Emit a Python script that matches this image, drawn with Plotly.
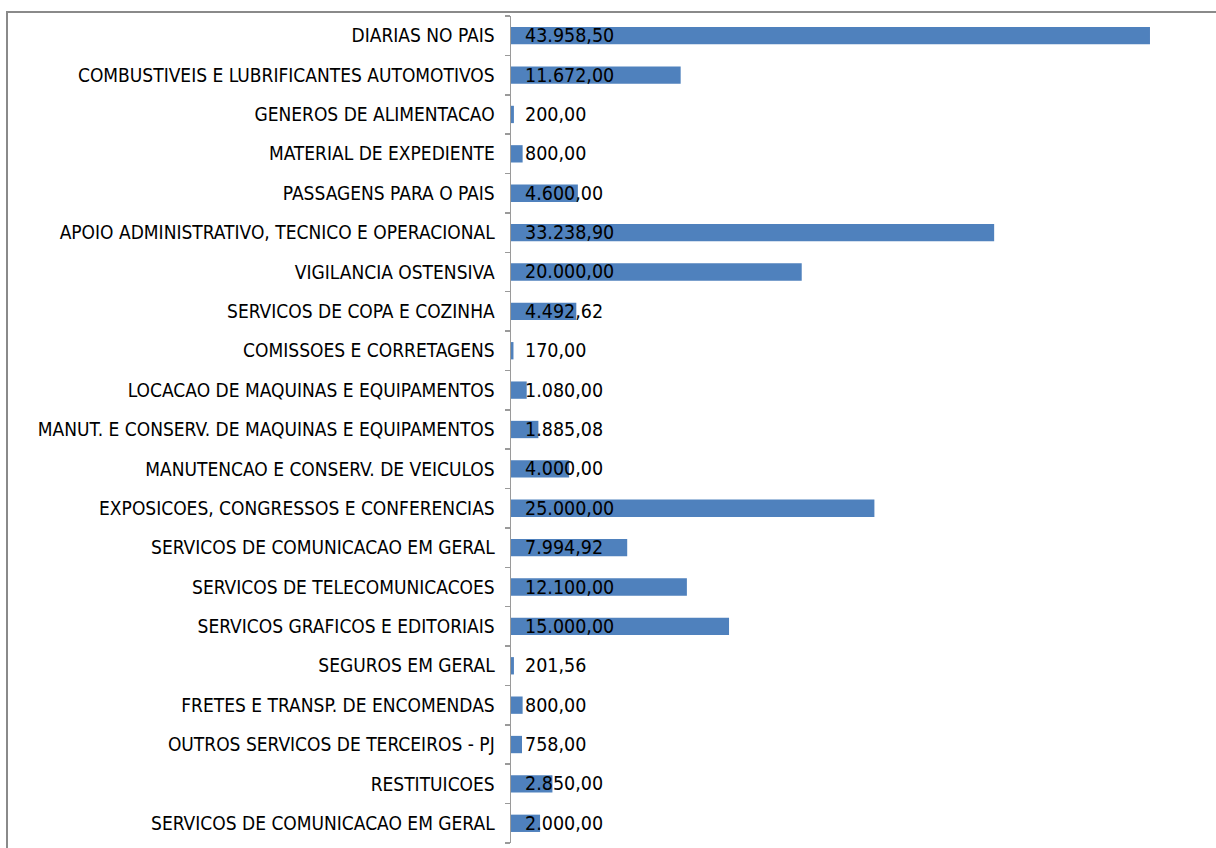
import plotly.graph_objects as go

categories = [
    "DIARIAS NO PAIS",
    "COMBUSTIVEIS E LUBRIFICANTES AUTOMOTIVOS",
    "GENEROS DE ALIMENTACAO",
    "MATERIAL DE EXPEDIENTE",
    "PASSAGENS PARA O PAIS",
    "APOIO ADMINISTRATIVO, TECNICO E OPERACIONAL",
    "VIGILANCIA OSTENSIVA",
    "SERVICOS DE COPA E COZINHA",
    "COMISSOES E CORRETAGENS",
    "LOCACAO DE MAQUINAS E EQUIPAMENTOS",
    "MANUT. E CONSERV. DE MAQUINAS E EQUIPAMENTOS",
    "MANUTENCAO E CONSERV. DE VEICULOS",
    "EXPOSICOES, CONGRESSOS E CONFERENCIAS",
    "SERVICOS DE COMUNICACAO EM GERAL",
    "SERVICOS DE TELECOMUNICACOES",
    "SERVICOS GRAFICOS E EDITORIAIS",
    "SEGUROS EM GERAL",
    "FRETES E TRANSP. DE ENCOMENDAS",
    "OUTROS SERVICOS DE TERCEIROS - PJ",
    "RESTITUICOES",
    "SERVICOS DE COMUNICACAO EM GERAL",
]

values = [
    43958.50, 11672.00, 200.00, 800.00, 4600.00, 33238.90, 20000.00,
    4492.62, 170.00, 1080.00, 1885.08, 4000.00, 25000.00, 7994.92,
    12100.00, 15000.00, 201.56, 800.00, 758.00, 2850.00, 2000.00,
]


def br(v):
    s = f"{v:,.2f}"
    return s.replace(",", "#").replace(".", ",").replace("#", ".")


labels = [br(v) for v in values]
positions = list(range(len(categories)))

FONT = "DejaVu Sans Condensed, DejaVu Sans, Liberation Sans Narrow, sans-serif"

fig = go.Figure()
fig.add_trace(go.Bar(
    x=values,
    y=positions,
    orientation="h",
    marker=dict(color="#4F81BD", line=dict(width=0)),
    width=0.44,
    hoverinfo="skip",
))

for p, lab in zip(positions, labels):
    fig.add_annotation(
        x=0, y=p, xref="x", yref="y", text=lab, showarrow=False,
        xanchor="left", yanchor="middle", xshift=12,
        font=dict(family=FONT, size=19.5, color="#000000"),
    )

# chart-area frame (partially visible, like the cropped original)
fig.add_shape(
    type="rect", xref="paper", yref="paper",
    x0=(7 - 511) / 705, x1=1.05, y0=-0.05, y1=(843 - 12) / 827,
    line=dict(color="#8a8a8a", width=2), fillcolor="rgba(0,0,0,0)",
    layer="below",
)

fig.update_layout(
    width=1216, height=848,
    margin=dict(l=511, r=0, t=16, b=5),
    paper_bgcolor="white", plot_bgcolor="white",
    showlegend=False,
    bargap=0.56,
    xaxis=dict(
        range=[0, 48500], showgrid=False, zeroline=False,
        showticklabels=False, ticks="", showline=False,
    ),
    yaxis=dict(
        tickmode="array", tickvals=positions, ticktext=categories,
        range=[len(categories) - 0.5, -0.5],
        showgrid=False, zeroline=False,
        showline=True, linecolor="#9a9a9a", linewidth=1.5,
        ticks="", ticklabelstandoff=11,
        tickfont=dict(family=FONT, size=19, color="#000000"),
        minor=dict(
            tickmode="array",
            tickvals=[i - 0.5 for i in range(len(categories) + 1)],
            ticks="outside", ticklen=5, tickcolor="#9a9a9a", tickwidth=1.5,
            showgrid=False,
        ),
    ),
)

fig.write_html(
    "out.html",
    config={"displayModeBar": False, "staticPlot": True},
    post_script="document.body.style.margin='0';document.body.style.overflow='hidden';",
)
